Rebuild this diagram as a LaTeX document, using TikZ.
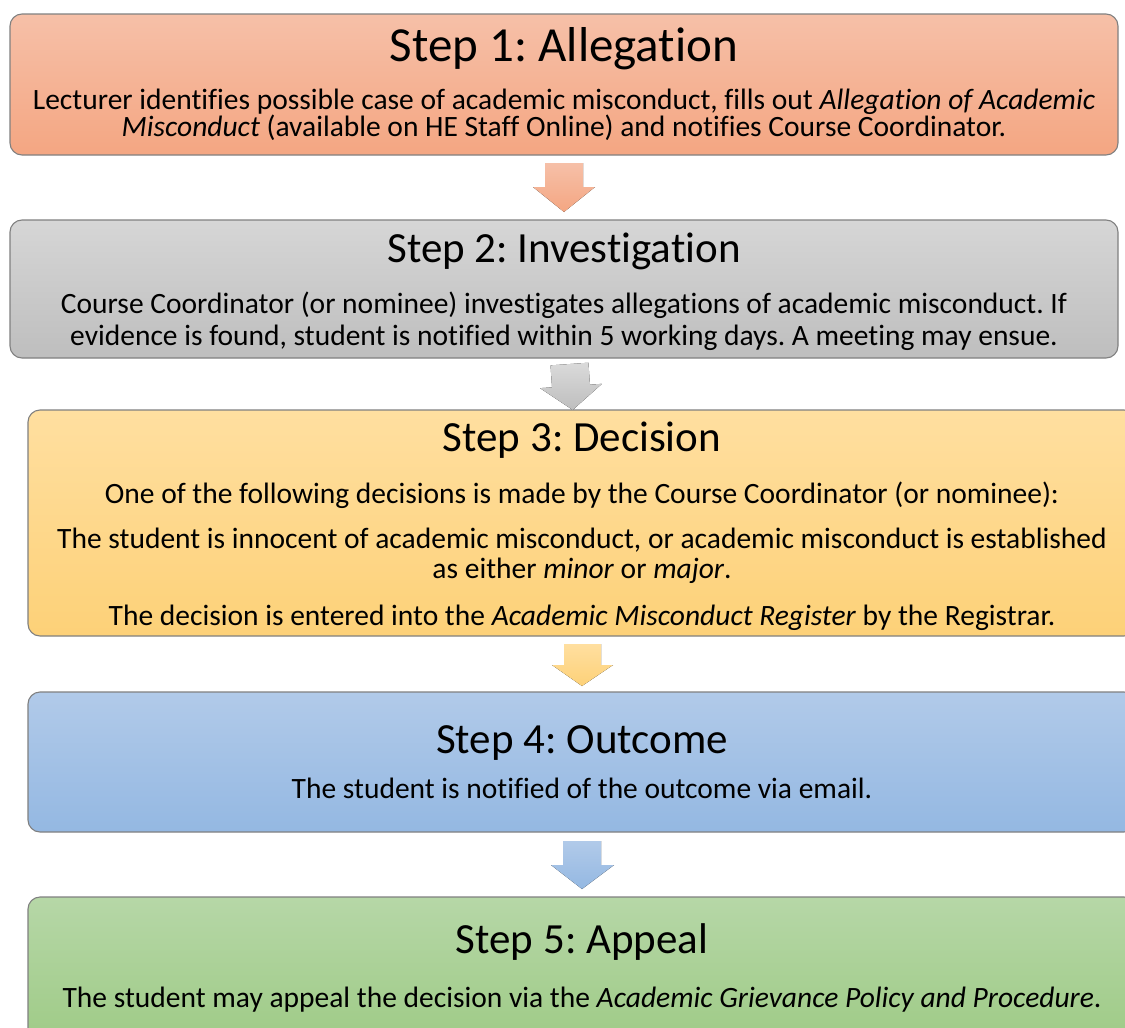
\documentclass[tikz,border=0pt]{standalone}
\usepackage{fontspec}
\setmainfont{Carlito}[Ligatures=NoCommon]
\frenchspacing
\definecolor{edge}{RGB}{128,128,128}
\definecolor{oT}{RGB}{246,192,168}
\definecolor{oB}{RGB}{244,166,130}
\definecolor{gT}{RGB}{214,214,214}
\definecolor{gB}{RGB}{190,190,190}
\definecolor{yT}{RGB}{255,223,160}
\definecolor{yB}{RGB}{253,209,120}
\definecolor{bT}{RGB}{177,202,233}
\definecolor{bB}{RGB}{148,184,226}
\definecolor{vT}{RGB}{182,215,167}
\definecolor{vB}{RGB}{159,203,135}
\begin{document}
\begin{tikzpicture}[x=1pt,y=-1pt,
  stepbox/.style={draw=edge, line width=1.1pt, rounded corners=12pt, inner sep=0pt},
  steptitle/.style={anchor=base, inner sep=0pt, font=\fontsize{43}{50}\selectfont},
  stepline/.style={anchor=base, inner sep=0pt, font=\fontsize{29.5}{34}\selectfont},
  blockarrow/.style={draw=none}]
\useasboundingbox (0,0) rectangle (1125,1028);
\clip (0,0) rectangle (1125,1028);

% boxes
\path[stepbox, top color=oT, bottom color=oB] (10,14) rectangle (1118,155);
\node (b1) at (564,84.5) {};
\path[stepbox, top color=gT, bottom color=gB] (10,220) rectangle (1118,358);
\node (b2) at (564,289) {};
\path[stepbox, top color=yT, bottom color=yB] (28,410) rectangle (1136,636);
\node (b3) at (582,523) {};
\path[stepbox, top color=bT, bottom color=bB] (28,692) rectangle (1136,832);
\node (b4) at (582,762) {};
\path[stepbox, top color=vT, bottom color=vB] (28,897) rectangle (1136,1040);
\node (b5) at (582,968) {};

% block arrows
\fill[blockarrow, top color=oT, bottom color=oB]
  (545,163) -- (583,163) -- (583,187) -- (595,187) -- (564,212) -- (533,187) -- (545,187) -- cycle;
\begin{scope}[rotate around={4:(571,386)}]
\fill[blockarrow, top color=gT!90, bottom color=gB]
  (552,364) -- (590,364) -- (590,386) -- (602,386) -- (571,410) -- (540,386) -- (552,386) -- cycle;
\end{scope}
\fill[blockarrow, top color=yT, bottom color=yB]
  (564,644) -- (601,644) -- (601,665) -- (613,665) -- (582,686) -- (552,665) -- (564,665) -- cycle;
\fill[blockarrow, top color=bT, bottom color=bB]
  (563,841) -- (601,841) -- (601,865) -- (614,865) -- (582,889) -- (551,865) -- (563,865) -- cycle;

% texts
\node[steptitle, font=\fontsize{49}{56}\selectfont] (t1) at (564,61) {Step 1: Allegation};
\node[stepline] (l11) at (564,109) {Lecturer identifies possible case of academic misconduct, fills out \textit{Allegation of Academic}};
\node[stepline] (l12) at (564,136) {\textit{Misconduct} (available on HE Staff Online) and notifies Course Coordinator.};

\node[steptitle] (t2) at (564,262) {Step 2: Investigation};
\node[stepline] (l21) at (564,313) {Course Coordinator (or nominee) investigates allegations of academic misconduct. If};
\node[stepline] (l22) at (564,345) {evidence is found, student is notified within 5 working days. A meeting may ensue.};

\node[steptitle] (t3) at (582,451) {Step 3: Decision};
\node[stepline] (l31) at (582,503) {One of the following decisions is made by the Course Coordinator (or nominee):};
\node[stepline] (l32) at (582,548) {The student is innocent of academic misconduct, or academic misconduct is established};
\node[stepline] (l33) at (582,578) {as either \textit{minor} or \textit{major}.};
\node[stepline] (l34) at (582,625) {The decision is entered into the \textit{Academic Misconduct Register} by the Registrar.};

\node[steptitle] (t4) at (582,753) {Step 4: Outcome};
\node[stepline] (l41) at (582,798) {The student is notified of the outcome via email.};

\node[steptitle] (t5) at (582,953) {Step 5: Appeal};
\node[stepline] (l51) at (582,1007) {The student may appeal the decision via the \textit{Academic Grievance Policy and Procedure}.};
\end{tikzpicture}
\end{document}
